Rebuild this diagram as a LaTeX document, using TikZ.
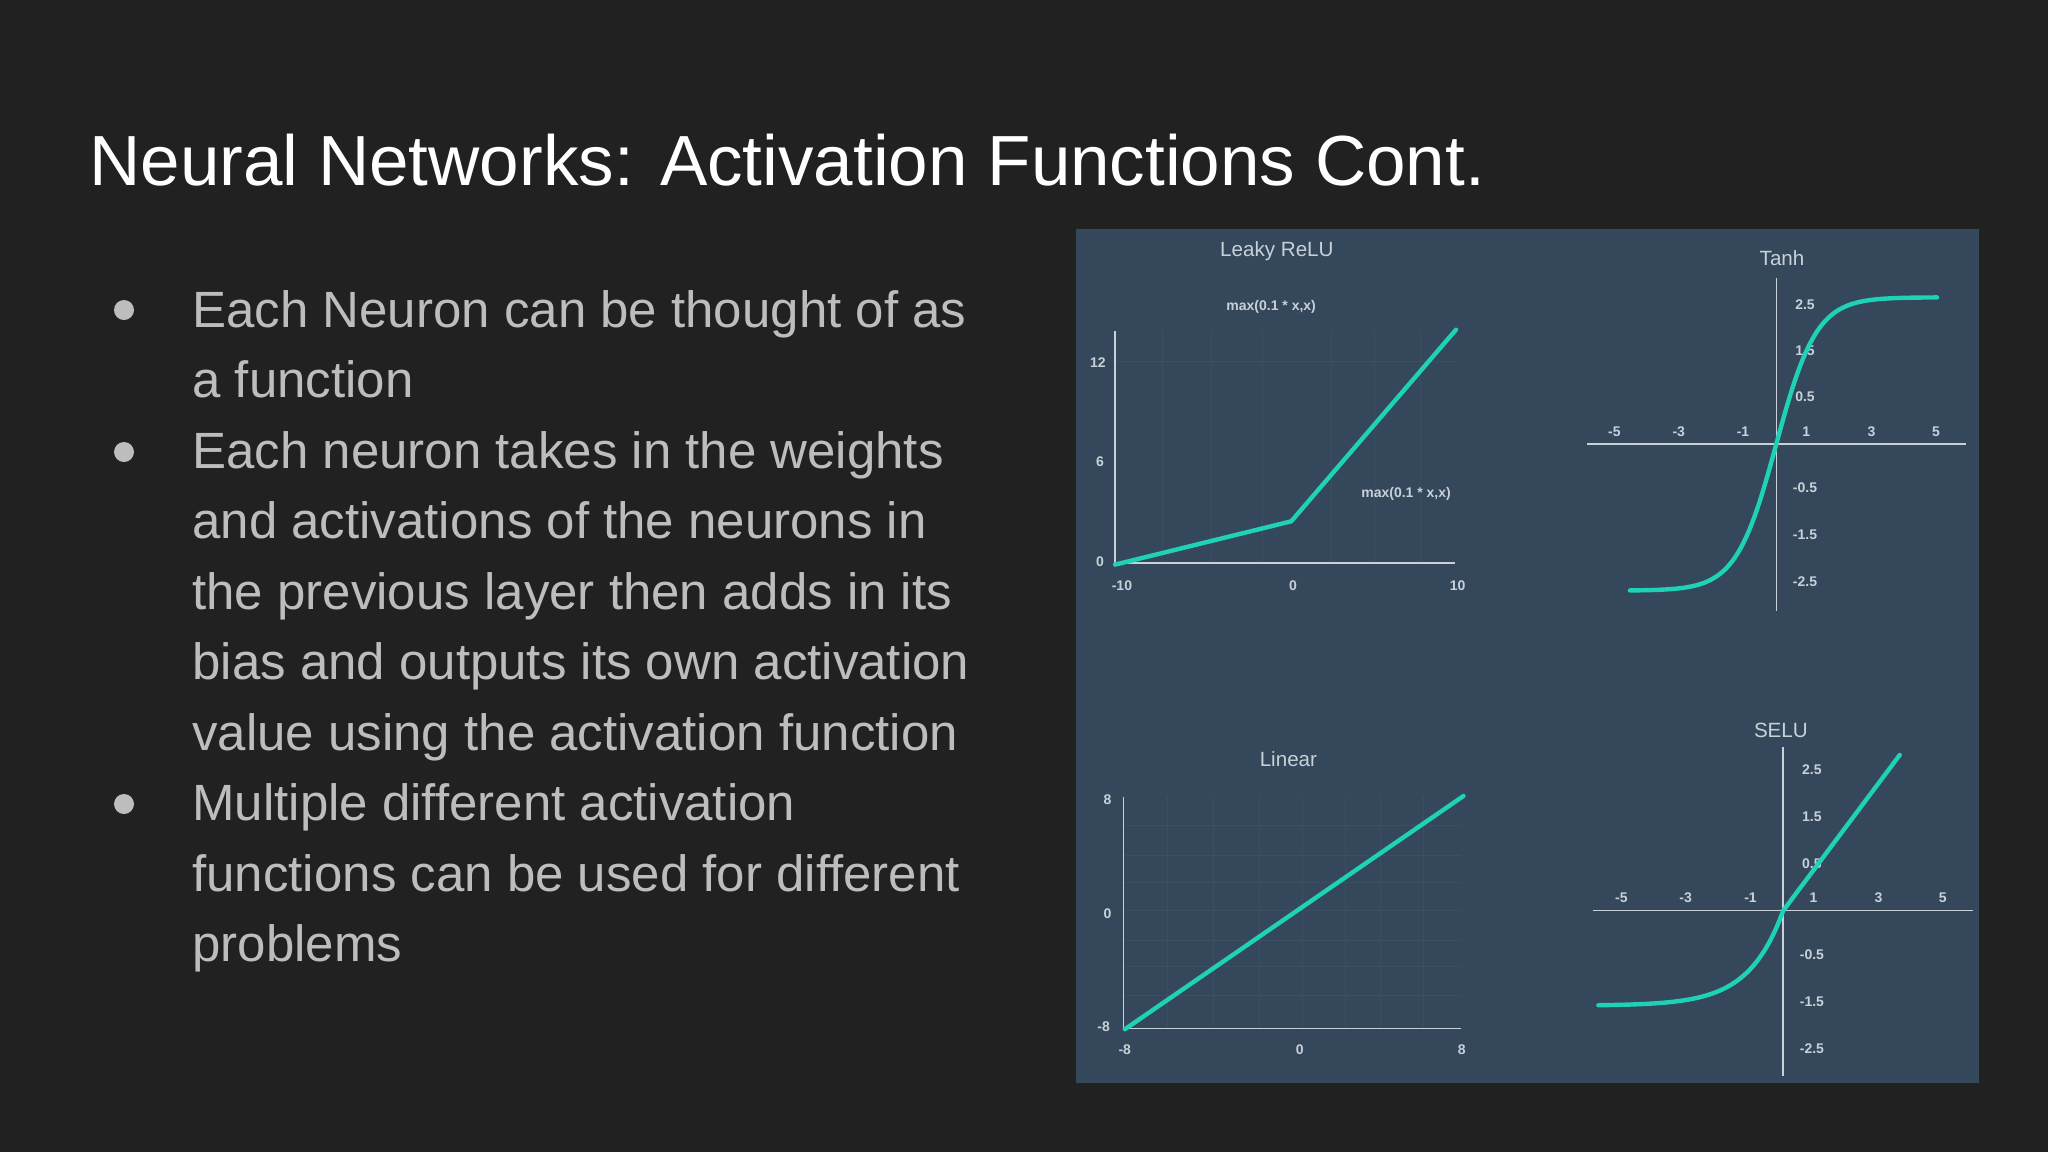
\documentclass[tikz,border=0pt]{standalone}
\usepackage{fontspec}
\setmainfont{Liberation Sans}
\definecolor{bg}{HTML}{212121}
\definecolor{panel}{HTML}{34475B}
\definecolor{teal}{HTML}{1FD1B5}
\definecolor{bodytxt}{HTML}{BDBDBD}
\definecolor{axisc}{HTML}{C9D1D8}
\definecolor{gridc}{HTML}{3B4F63}
\tikzset{
  bodyline/.style={anchor=base west,text=bodytxt,font=\fontsize{25.5}{30}\selectfont,inner sep=0pt},
  bul/.style={circle,fill=bodytxt,minimum size=10pt,inner sep=0pt},
  ptitle/.style={text=axisc,font=\fontsize{10.3}{12}\selectfont,inner sep=0pt},
  tick/.style={text=axisc,font=\bfseries\fontsize{7}{8}\selectfont,inner sep=0pt},
  ax/.style={draw=axisc,line width=0.8pt},
  curve/.style={draw=teal,line width=2.2pt,line cap=round,line join=round},
  gridl/.style={draw=gridc,line width=0.4pt}
}
\begin{document}
\begin{tikzpicture}[x=0.5pt,y=-0.5pt]
\fill[bg] (0,0) rectangle (2048,1152);
\useasboundingbox (0,0) rectangle (2048,1152);
\node[anchor=base west,text=white,font=\fontsize{35.5}{42}\selectfont,inner sep=0pt] (title) at (89,185) {Neural Networks: Activation Functions Cont.};
% bullets
\node[bul] (b1) at (124,310) {};
\node[bul] (b2) at (124,452) {};
\node[bul] (b3) at (124,804) {};
\node[bodyline] (l1) at (192,327) {Each Neuron can be thought of as};
\node[bodyline] (l2) at (192,397.5) {a function};
\node[bodyline] (l3) at (192,468) {Each neuron takes in the weights};
\node[bodyline] (l4) at (192,538.5) {and activations of the neurons in};
\node[bodyline] (l5) at (192,609) {the previous layer then adds in its};
\node[bodyline] (l6) at (192,679.5) {bias and outputs its own activation};
\node[bodyline] (l7) at (192,750) {value using the activation function};
\node[bodyline] (l8) at (192,820.5) {Multiple different activation};
\node[bodyline] (l9) at (192,891) {functions can be used for different};
\node[bodyline] (l10) at (192,961.5) {problems};
% panel
\fill[panel] (1076,229) rectangle (1979,1083);
\begin{scope}[shift={(1076,228)},xscale=0.574,yscale=0.3333]
% Leaky ReLU
\foreach \gx in {150,235,325,445,520,600} \draw[gridl] (\gx,310) -- (\gx,1005);
\draw[gridl] (68,400) -- (660,400);
\draw[ax] (68,310) -- (68,1005) -- (660,1005);
\node[ptitle] (lrt) at (350,70) {Leaky ReLU};
\node[tick] (lrm1) at (340,237) {max(0.1 * x,x)};
\node[tick] (lrm2) at (575,797) {max(0.1 * x,x)};
\node[tick] (lry1) at (38,405) {12};
\node[tick] (lry2) at (42,700) {6};
\node[tick] (lry3) at (42,1000) {0};
\node[tick] (lrx1) at (80,1072) {-10};
\node[tick] (lrx2) at (378,1072) {0};
\node[tick] (lrx3) at (665,1072) {10};
\draw[curve] (68,1010) -- (375,880) -- (662,305);
% Tanh
\draw[ax] (1220,150) -- (1220,1148);
\draw[ax] (890,648) -- (1550,648);
\node[ptitle] (tht) at (1230,90) {Tanh};
\foreach \v/\xx in {-5/938,-3/1050,-1/1162,1/1272,3/1386,5/1498} \node[tick] at (\xx,610) {\v};
\foreach \v/\yy in {2.5/230,1.5/368,0.5/505,-0.5/780,-1.5/920,-2.5/1060} \node[tick] at (1270,\yy) {\v};
\draw[curve] plot[domain=-255:280,samples=100,smooth] ({1220+\x},{648-440*tanh(\x/70)});
\end{scope}
\begin{scope}[shift={(1076,700)},xscale=0.574,yscale=0.3333]
% Linear
\foreach \gx in {160,240,320,395,470,530,605} \draw[gridl] (\gx,290) -- (\gx,985);
\foreach \gy in {375,465,548,632,720,800,885} \draw[gridl] (83,\gy) -- (670,\gy);
\draw[ax] (83,290) -- (83,985) -- (670,985);
\node[ptitle] (lint) at (370,178) {Linear};
\node[tick] (liy1) at (55,300) {8};
\node[tick] (liy2) at (55,640) {0};
\node[tick] (liy3) at (48,980) {-8};
\node[tick] (lix1) at (85,1050) {-8};
\node[tick] (lix2) at (390,1050) {0};
\node[tick] (lix3) at (672,1050) {8};
\draw[curve] (85,988) -- (675,288);
% SELU
\draw[ax] (1232,140) -- (1232,1128);
\draw[ax] (900,632) -- (1562,632);
\node[ptitle] (selt) at (1228,90) {SELU};
\foreach \v/\xx in {-5/950,-3/1062,-1/1175,1/1285,3/1398,5/1510} \node[tick] at (\xx,593) {\v};
\foreach \v/\yy in {2.5/210,1.5/350,0.5/490,-0.5/765,-1.5/905,-2.5/1045} \node[tick] at (1282,\yy) {\v};
\draw[curve] plot[domain=-322:0,samples=80,smooth] ({1232+\x},{632+285*(1-exp(\x/60))}) -- (1435,165);
\end{scope}
\end{tikzpicture}
\end{document}
